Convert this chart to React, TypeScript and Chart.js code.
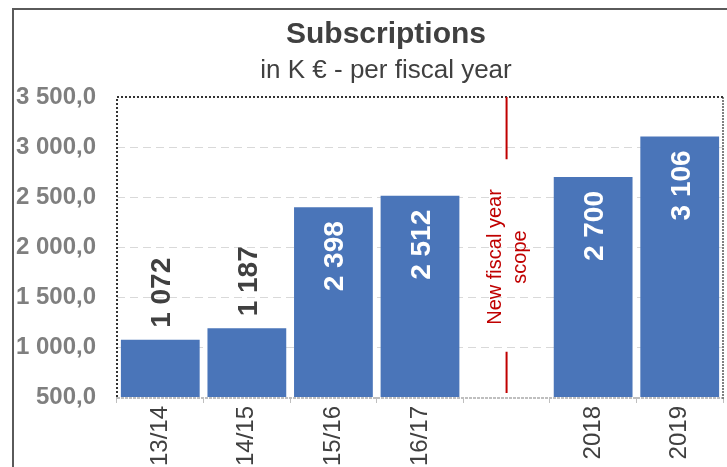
import { useEffect, useRef } from "react";
import { Chart, registerables } from "chart.js";

Chart.register(...registerables);

// ---- data ----
const categories = ["13/14", "14/15", "15/16", "16/17", "", "2018", "2019"];
const subscriptions: (number | null)[] = [1072, 1187, 2398, 2512, null, 2700, 3106];
const yMin = 500;
const yMax = 3500;
const yStep = 500;
const titleText = "Subscriptions";
const subtitleText = "in K € - per fiscal year";
const annotationIndex = 4;
const annotationLines = ["New fiscal year", "scope"];

const FONT = "'Liberation Sans', Arial, Helvetica, sans-serif";
const BAR_COLOR = "#4a75b9";
const DARK = "#404040";
const RED = "#c00000";

function thousands(n: number): string {
  return String(n).replace(/\B(?=(\d{3})+(?!\d))/g, " ");
}
function fmtTick(v: number): string {
  const [i, d] = v.toFixed(1).split(".");
  return thousands(Number(i)) + "," + d;
}

const framePlugin = {
  id: "frame",
  beforeDraw(chart: any) {
    const ctx = chart.ctx;
    ctx.save();
    ctx.strokeStyle = "#5a5a5a";
    ctx.lineWidth = 2;
    ctx.beginPath();
    ctx.moveTo(13, chart.height + 2);
    ctx.lineTo(13, 9);
    ctx.lineTo(chart.width + 2, 9);
    ctx.stroke();
    ctx.restore();
  },
};

const titlesPlugin = {
  id: "titles",
  afterDraw(chart: any) {
    const ctx = chart.ctx;
    ctx.save();
    ctx.textAlign = "center";
    ctx.textBaseline = "alphabetic";
    ctx.fillStyle = DARK;
    ctx.font = `bold 30px ${FONT}`;
    ctx.fillText(titleText, 386, 43);
    ctx.font = `26px ${FONT}`;
    ctx.fillText(subtitleText, 386, 78);
    ctx.restore();
  },
};

const plotBorderPlugin = {
  id: "plotBorder",
  afterDatasetsDraw(chart: any) {
    const { ctx, chartArea } = chart;
    const { left, right, top, bottom } = chartArea;
    ctx.save();
    ctx.lineWidth = 2;
    ctx.strokeStyle = "#bfbfbf";
    ctx.setLineDash([3, 1]);
    ctx.beginPath();
    ctx.moveTo(left, bottom + 1);
    ctx.lineTo(right, bottom + 1);
    ctx.stroke();
    ctx.strokeStyle = "#808080";
    ctx.setLineDash([2, 1]);
    ctx.beginPath();
    ctx.moveTo(right, top);
    ctx.lineTo(right, bottom + 2);
    ctx.stroke();
    ctx.strokeStyle = "#333333";
    ctx.setLineDash([2, 2]);
    ctx.beginPath();
    ctx.moveTo(right, top);
    ctx.lineTo(left, top);
    ctx.lineTo(left, bottom + 2);
    ctx.stroke();
    ctx.restore();
  },
};

const labelsPlugin = {
  id: "barLabels",
  afterDatasetsDraw(chart: any) {
    const ctx = chart.ctx;
    const meta = chart.getDatasetMeta(0);
    const size = 28;
    ctx.save();
    ctx.font = `bold ${size}px ${FONT}`;
    ctx.textBaseline = "alphabetic";
    meta.data.forEach((bar: any, i: number) => {
      const v = subscriptions[i];
      if (v == null) return;
      const text = thousands(v);
      const w = ctx.measureText(text).width;
      const barH = bar.base - bar.y;
      const clippedH = chart.chartArea.bottom - bar.y;
      const inside = Math.min(barH, clippedH) > w + 40;
      ctx.save();
      if (inside) {
        ctx.translate(bar.x, bar.y + 14);
        ctx.rotate(-Math.PI / 2);
        ctx.textAlign = "right";
        ctx.fillStyle = "#ffffff";
      } else {
        ctx.translate(bar.x, bar.y - 12);
        ctx.rotate(-Math.PI / 2);
        ctx.textAlign = "left";
        ctx.fillStyle = DARK;
      }
      ctx.fillText(text, 0, (size * 0.716) / 2);
      ctx.restore();
    });
    ctx.restore();
  },
};

const annotationPlugin = {
  id: "fiscalAnnotation",
  afterDatasetsDraw(chart: any) {
    const { ctx, chartArea } = chart;
    const x = chart.scales.x.getPixelForValue(annotationIndex);
    const cy = (chartArea.top + chartArea.bottom) / 2 + 10;
    const size = 20;
    ctx.save();
    ctx.font = `${size}px ${FONT}`;
    const w = Math.max(...annotationLines.map((l) => ctx.measureText(l).width));
    ctx.strokeStyle = RED;
    ctx.lineWidth = 2;
    ctx.beginPath();
    ctx.moveTo(x, chartArea.top);
    ctx.lineTo(x, cy - w / 2 - 30);
    ctx.moveTo(x, cy + w / 2 + 27);
    ctx.lineTo(x, chartArea.bottom - 4);
    ctx.stroke();
    ctx.fillStyle = RED;
    ctx.textAlign = "center";
    ctx.textBaseline = "alphabetic";
    ctx.translate(x, cy);
    ctx.rotate(-Math.PI / 2);
    ctx.fillText(annotationLines[0], 0, -6);
    ctx.fillText(annotationLines[1], 0, 19);
    ctx.restore();
  },
};

export default function App() {
  const canvasRef = useRef<HTMLCanvasElement | null>(null);

  useEffect(() => {
    const canvas = canvasRef.current;
    if (!canvas) return;
    const chart = new Chart(canvas, {
      type: "bar",
      data: {
        labels: categories,
        datasets: [
          {
            data: subscriptions,
            backgroundColor: BAR_COLOR,
            borderWidth: 0,
            barPercentage: 0.91,
            categoryPercentage: 1,
          },
        ],
      },
      options: {
        responsive: false,
        animation: false,
        events: [],
        layout: { padding: { left: 0, right: 4, top: 97, bottom: 0 } },
        plugins: {
          legend: { display: false },
          tooltip: { enabled: false },
          title: { display: false },
        },
        scales: {
          x: {
            type: "category",
            offset: true,
            grid: {
              display: true,
              drawOnChartArea: false,
              drawTicks: true,
              tickLength: 6,
              color: "#bfbfbf",
              offset: true,
            },
            border: { display: false },
            ticks: {
              autoSkip: false,
              minRotation: 90,
              maxRotation: 90,
              padding: 3,
              color: DARK,
              font: { family: FONT, size: 24 },
            },
            afterFit: (scale: any) => {
              scale.height = 70;
            },
          },
          y: {
            min: yMin,
            max: yMax,
            grid: {
              drawTicks: false,
              color: (c: any) =>
                c.tick && (c.tick.value === yMin || c.tick.value === yMax)
                  ? "rgba(0,0,0,0)"
                  : "#d9d9d9",
              lineWidth: 1,
            },
            border: { display: false, dash: [8, 5] },
            ticks: {
              stepSize: yStep,
              padding: 21,
              color: "#7f7f7f",
              font: { family: FONT, size: 24, weight: "bold" },
              callback: (v: any) => fmtTick(Number(v)),
            },
            afterFit: (scale: any) => {
              scale.width = 117;
            },
          },
        },
      },
      plugins: [framePlugin, titlesPlugin, plotBorderPlugin, labelsPlugin, annotationPlugin],
    } as any);
    return () => chart.destroy();
  }, []);

  return (
    <div
      style={{
        position: "absolute",
        left: 0,
        top: 0,
        width: 727,
        height: 467,
        overflow: "hidden",
        background: "#ffffff",
      }}
    >
      <canvas ref={canvasRef} width={727} height={467} style={{ display: "block" }} />
    </div>
  );
}
